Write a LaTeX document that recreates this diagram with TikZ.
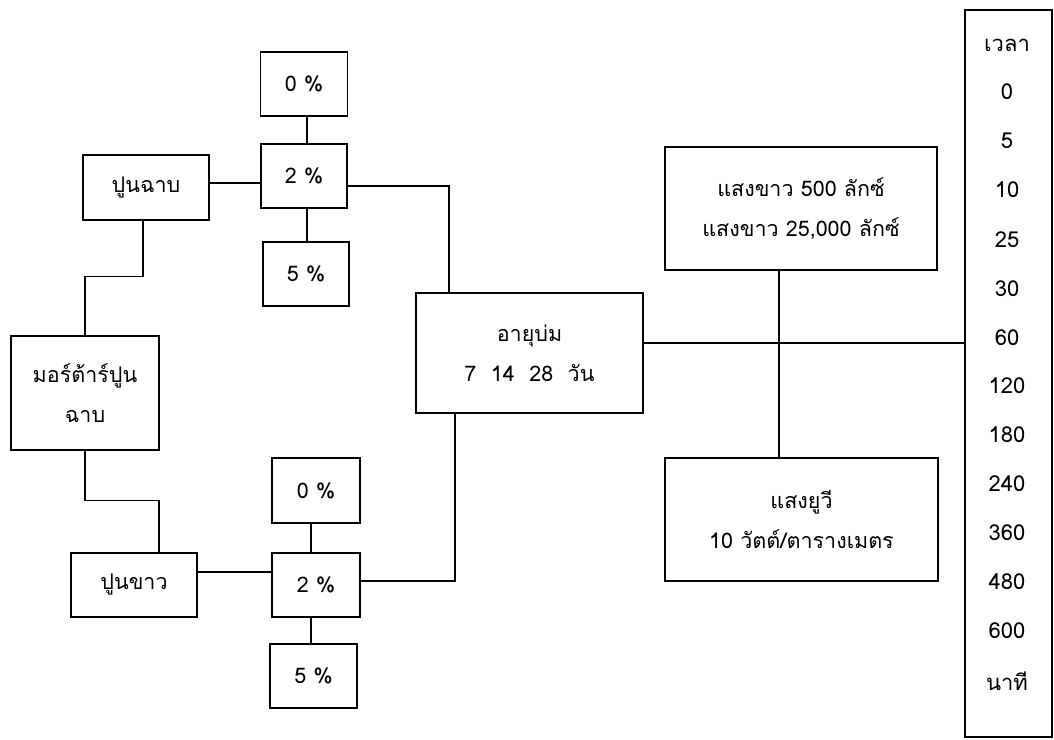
\documentclass[tikz,border=0pt]{standalone}
\usepackage{fontspec}
\newfontfamily\thaifont[Script=Thai]{Loma}
\begin{document}
\begin{tikzpicture}[x=1pt,y=-1pt,
  box/.style={draw,line width=1.4pt,rectangle,inner sep=0pt,align=center,font=\thaifont\fontsize{21.5}{40}\selectfont},
  conn/.style={line width=1.4pt},
  tlabel/.style={inner sep=0pt,font=\thaifont\fontsize{22}{24}\selectfont}]
\useasboundingbox (0,0) rectangle (1054,739);
% left top group
\node[box,minimum width=87pt,minimum height=64pt] (top0) at (304,84) {0 \%};
\node[box,minimum width=86pt,minimum height=64pt] (top2) at (304,176) {2 \%};
\node[box,minimum width=86pt,minimum height=64pt] (top5) at (306,274) {5 \%};
\node[box,minimum width=126pt,minimum height=65pt] (finish) at (146,187.5) {ปูนฉาบ};
\node[box,minimum width=148pt,minimum height=114pt] (mortar) at (85,393) {มอร์ต้าร์ปูน\\ฉาบ};
\node[box,minimum width=126pt,minimum height=64pt] (lime) at (134,585) {ปูนขาว};
\node[box,minimum width=88pt,minimum height=65pt] (bot0) at (316,490.5) {0 \%};
\node[box,minimum width=88pt,minimum height=64pt] (bot2) at (316,585) {2 \%};
\node[box,minimum width=87pt,minimum height=64pt] (bot5) at (313.5,676) {5 \%};
\node[box,minimum width=227pt,minimum height=120pt] (cure) at (529.5,353) {อายุบ่ม\\7\ \ 14\ \ 28\ \ วัน};
\node[box,minimum width=272pt,minimum height=123pt] (light) at (801,208.5) {แสงขาว 500 ลักซ์\\แสงขาว 25,000 ลักซ์};
\node[box,minimum width=273pt,minimum height=123pt] (uv) at (801.5,519.5) {แสงยูวี\\10 วัตต์/ตารางเมตร};
\node[box,minimum width=87pt,minimum height=727pt] (time) at (1008.5,373.5) {};
% time labels
\foreach \n/\t/\yy in {a/เวลา/45, b/0/92, c/5/141, d/10/190, e/25/240, f/30/289, g/60/338, h/120/386, i/180/435, j/240/484, k/360/533, l/480/582, m/600/631, n/นาที/681}
  \node[tlabel] (t\n) at (1007,\yy) {\t};
% connectors
\draw[conn] ([xshift=3pt]top0.south) -- ([xshift=3pt]top0.south |- top2.north);
\draw[conn] ([xshift=3pt]top2.south) -- ([xshift=3pt]top2.south |- top5.north);
\draw[conn] ([yshift=4.5pt]finish.east) -- ([yshift=4.5pt]finish.east -| top2.west);
\draw[conn] ([yshift=-10pt]top2.east) -| ([xshift=-80.5pt]cure.north);
\draw[conn] ([xshift=-3pt]finish.south) -- ++(0,56) -| (mortar.north);
\draw[conn] (mortar.south) -- ++(0,50) -| ([xshift=25pt]lime.north);
\draw[conn] ([yshift=13pt]lime.east) -- ([yshift=13pt]lime.east -| bot2.west);
\draw[conn] ([xshift=-5pt]bot0.south) -- ([xshift=-5pt]bot0.south |- bot2.north);
\draw[conn] ([xshift=-5pt]bot2.south) -- ([xshift=-5pt]bot2.south |- bot5.north);
\draw[conn] ([yshift=4pt]bot2.east) -| ([xshift=-74.5pt]cure.south);
\draw[conn] ([yshift=10pt]cure.east) -- ([yshift=10pt]cure.east -| time.west);
\draw[conn] ([xshift=-22pt]light.south) -- ([xshift=-22pt]light.south |- uv.north);
\end{tikzpicture}
\end{document}
